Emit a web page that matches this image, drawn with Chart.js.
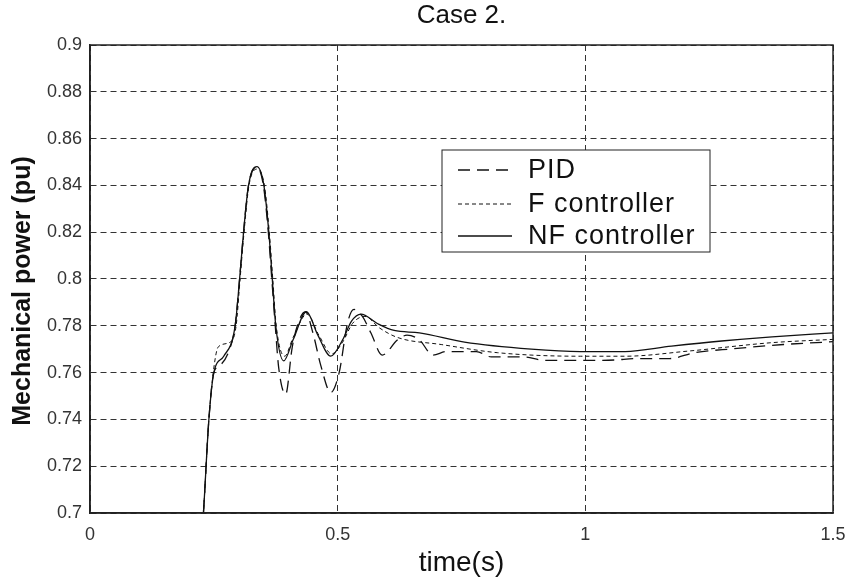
<!DOCTYPE html>
<html>
<head>
<meta charset="utf-8">
<title>Case 2.</title>
<script src="https://cdn.jsdelivr.net/npm/chart.js@4.4.1/dist/chart.umd.min.js"></script>
<style>
  html, body { margin: 0; padding: 0; background: #fff; }
  canvas { display: block; }
</style>
</head>
<body>
<canvas id="chart" width="850" height="579"></canvas>
<script>
// values: time (s) -> mechanical power (pu)
var timePID = [0.215, 0.229, 0.24, 0.25, 0.262, 0.28, 0.293, 0.302, 0.31, 0.32, 0.336, 0.35, 0.36, 0.367, 0.374, 0.381, 0.395, 0.408, 0.42, 0.435, 0.45, 0.466, 0.486, 0.503, 0.52, 0.533, 0.55, 0.567, 0.59, 0.621, 0.64, 0.665, 0.692, 0.72, 0.78, 0.81, 0.877, 0.917, 0.99, 1.06, 1.1, 1.17, 1.22, 1.3, 1.4, 1.5];
var powerPID = [0.66, 0.70, 0.74, 0.76, 0.763, 0.769, 0.78, 0.80, 0.82, 0.84, 0.848, 0.84, 0.82, 0.80, 0.78, 0.762, 0.7507, 0.7705, 0.781, 0.786, 0.777, 0.763, 0.7515, 0.76, 0.7813, 0.787, 0.784, 0.777, 0.7675, 0.774, 0.776, 0.774, 0.7675, 0.769, 0.769, 0.7667, 0.7667, 0.7652, 0.7652, 0.7654, 0.766, 0.766, 0.7685, 0.7702, 0.772, 0.7732];

var timeF = [0.215, 0.229, 0.24, 0.25, 0.259, 0.283, 0.295, 0.303, 0.311, 0.321, 0.338, 0.352, 0.362, 0.369, 0.376, 0.393, 0.41, 0.438, 0.462, 0.488, 0.51, 0.53, 0.555, 0.585, 0.621, 0.709, 0.823, 0.99, 1.08, 1.208, 1.377, 1.5];
var powerF = [0.66, 0.70, 0.74, 0.762, 0.771, 0.773, 0.78, 0.80, 0.82, 0.84, 0.847, 0.84, 0.82, 0.80, 0.78, 0.767, 0.775, 0.785, 0.776, 0.768, 0.773, 0.781, 0.784, 0.779, 0.775, 0.772, 0.7685, 0.767, 0.767, 0.7692, 0.7728, 0.7742];

var timeNF = [0.215, 0.229, 0.24, 0.25, 0.27, 0.293, 0.302, 0.31, 0.32, 0.337, 0.351, 0.361, 0.368, 0.375, 0.391, 0.41, 0.437, 0.46, 0.486, 0.51, 0.528, 0.547, 0.58, 0.614, 0.665, 0.756, 0.891, 0.99, 1.08, 1.174, 1.275, 1.377, 1.5];
var powerNF = [0.66, 0.70, 0.74, 0.76, 0.767, 0.78, 0.80, 0.82, 0.84, 0.848, 0.84, 0.82, 0.80, 0.78, 0.765, 0.774, 0.786, 0.776, 0.767, 0.774, 0.782, 0.785, 0.781, 0.778, 0.777, 0.773, 0.770, 0.769, 0.769, 0.7713, 0.7735, 0.7753, 0.777];

var xTicks = [0, 0.5, 1, 1.5];
var xTickLabels = ['0', '0.5', '1', '1.5'];
var yTicks = [0.7, 0.72, 0.74, 0.76, 0.78, 0.8, 0.82, 0.84, 0.86, 0.88, 0.9];
var yTickLabels = ['0.7', '0.72', '0.74', '0.76', '0.78', '0.8', '0.82', '0.84', '0.86', '0.88', '0.9'];

var FONT = '"Liberation Sans", Arial, sans-serif';

function toPoints(xs, ys) {
    var pts = [];
    for (var i = 0; i < xs.length; ++i) pts.push({ x: xs[i], y: ys[i] });
    return pts;
}

function tickLabel(values, labels) {
    return function (value) {
        for (var i = 0; i < values.length; ++i) {
            if (Math.abs(values[i] - value) < 1e-6) return labels[i];
        }
        return '';
    };
}

// box around the plot, title, y label and the legend inside the plot, matlab style
var framePlugin = {
    id: 'frame',
    afterDatasetsDraw: function (chart) {
        var ctx = chart.ctx;
        var a = chart.chartArea;
        ctx.save();
        ctx.strokeStyle = '#222';
        ctx.lineWidth = 1.5;
        ctx.setLineDash([]);
        ctx.strokeRect(a.left, a.top, a.right - a.left, a.bottom - a.top);

        ctx.fillStyle = '#111';
        ctx.textAlign = 'center';
        ctx.textBaseline = 'middle';

        // title is centred over the axes, not the canvas
        ctx.font = '26px ' + FONT;
        ctx.fillText('Case 2.', (a.left + a.right) / 2, 16);

        // y axis label, sits a bit below the middle in the original
        ctx.save();
        ctx.translate(23, 291);
        ctx.rotate(-Math.PI / 2);
        ctx.font = 'bold 25px ' + FONT;
        ctx.fillText('Mechanical power (pu)', 0, 0);
        ctx.restore();

        // legend
        var bx = 442, by = 150, bw = 268, bh = 102;
        ctx.fillStyle = '#fff';
        ctx.fillRect(bx, by, bw, bh);
        ctx.lineWidth = 1;
        ctx.strokeStyle = '#222';
        ctx.strokeRect(bx, by, bw, bh);
        ctx.font = '27px ' + FONT;
        ctx.letterSpacing = '1px';
        ctx.textAlign = 'left';
        ctx.fillStyle = '#111';
        var rows = [170, 204, 236];
        chart.data.datasets.forEach(function (ds, i) {
            var y = rows[i];
            ctx.beginPath();
            ctx.setLineDash(ds.borderDash || []);
            ctx.lineWidth = ds.borderWidth;
            ctx.strokeStyle = ds.borderColor;
            ctx.moveTo(458, y);
            ctx.lineTo(512, y);
            ctx.stroke();
            ctx.setLineDash([]);
            ctx.fillText(ds.label, 528, y + 1);
        });
        ctx.restore();
    }
};

var chart = new Chart(document.getElementById('chart'), {
    type: 'line',
    data: {
        datasets: [{
            label: 'PID',
            data: toPoints(timePID, powerPID),
            borderColor: '#111',
            borderWidth: 1.3,
            borderDash: [12, 7]
        }, {
            label: 'F controller',
            data: toPoints(timeF, powerF),
            borderColor: '#111',
            borderWidth: 1,
            borderDash: [4, 3]
        }, {
            label: 'NF controller',
            data: toPoints(timeNF, powerNF),
            borderColor: '#111',
            borderWidth: 1.3
        }]
    },
    options: {
        responsive: false,
        animation: false,
        devicePixelRatio: 1,
        layout: { padding: { left: 0, right: 17, top: 45, bottom: 0 } },
        elements: {
            point: { radius: 0 },
            line: { cubicInterpolationMode: 'monotone', fill: false }
        },
        plugins: {
            legend: { display: false },
            tooltip: { enabled: false },
            title: { display: false }
        },
        scales: {
            x: {
                type: 'linear',
                min: 0,
                max: 1.5,
                afterFit: function (s) {
                    s.height = 66;
                    // end labels may hang over the edges, don't let them shrink the plot
                    s.paddingLeft = 0;
                    s.paddingRight = 0;
                },
                afterBuildTicks: function (s) { s.ticks = xTicks.map(function (v) { return { value: v }; }); },
                grid: { color: '#333', lineWidth: 1, drawTicks: false },
                border: { display: true, color: '#222', width: 1.5, dash: [6, 4] },
                ticks: {
                    color: '#333',
                    padding: 11,
                    maxRotation: 0,
                    font: { family: FONT, size: 18 },
                    callback: tickLabel(xTicks, xTickLabels)
                },
                title: {
                    display: true,
                    text: 'time(s)',
                    color: '#111',
                    font: { family: FONT, size: 28 },
                    padding: { top: 0, bottom: -1 }
                }
            },
            y: {
                type: 'linear',
                min: 0.7,
                max: 0.9,
                afterFit: function (s) {
                    s.width = 90;
                    s.paddingTop = 0;
                    s.paddingBottom = 0;
                },
                afterBuildTicks: function (s) { s.ticks = yTicks.map(function (v) { return { value: v }; }); },
                grid: { color: '#333', lineWidth: 1, drawTicks: false },
                border: { display: true, color: '#222', width: 1.5, dash: [6, 4] },
                ticks: {
                    color: '#333',
                    padding: 8,
                    font: { family: FONT, size: 18 },
                    callback: tickLabel(yTicks, yTickLabels)
                }
            }
        }
    },
    plugins: [framePlugin]
});
</script>
</body>
</html>
